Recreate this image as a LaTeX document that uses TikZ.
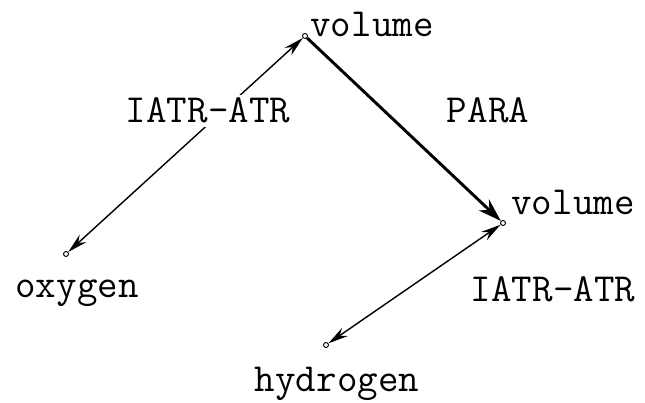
\documentclass[tikz,border=0pt]{standalone}
\usetikzlibrary{arrows.meta}

\begin{document}
\begin{tikzpicture}[
        x=0.03cm, y=-0.03cm,
        dot/.style={circle, draw, line width=0.8pt, inner sep=0pt, minimum size=1.5mm},
        word/.style={font=\ttfamily\fontsize{34}{40}\selectfont, inner sep=3pt, anchor=base},
        rel/.style={line width=1.2pt, {Stealth[length=6mm, width=3mm]}-{Stealth[length=6mm, width=3mm]}},
        para/.style={line width=2.5pt, -{Stealth[length=7mm, width=4.5mm]}},
      ]
      \useasboundingbox (0,0) rectangle (645,403);

      % points
      \node[dot] (top) at (305,36) {};
      \node[dot] (mid) at (503,223) {};
      \node[dot] (oxy) at (66,254) {};
      \node[dot] (hyd) at (326,345) {};

      % connectors
      \draw[rel] (oxy) -- (top);
      \draw[para] (top) -- (mid);
      \draw[rel] (mid) -- (hyd);

      % texts
      \node[word] (toptext) at (372,37) {volume};
      \node[word] (midtext) at (573,215) {volume};
      \node[word] (oxytext) at (77,298) {oxygen};
      \node[word] (hydtext) at (337,391) {hydrogen};
      \node[word, fill=white] (rel1) at (208,123) {IATR-ATR};
      \node[word] (para1) at (488,123) {PARA};
      \node[word] (rel2) at (553,302) {IATR-ATR};

    \end{tikzpicture}
\end{document}
